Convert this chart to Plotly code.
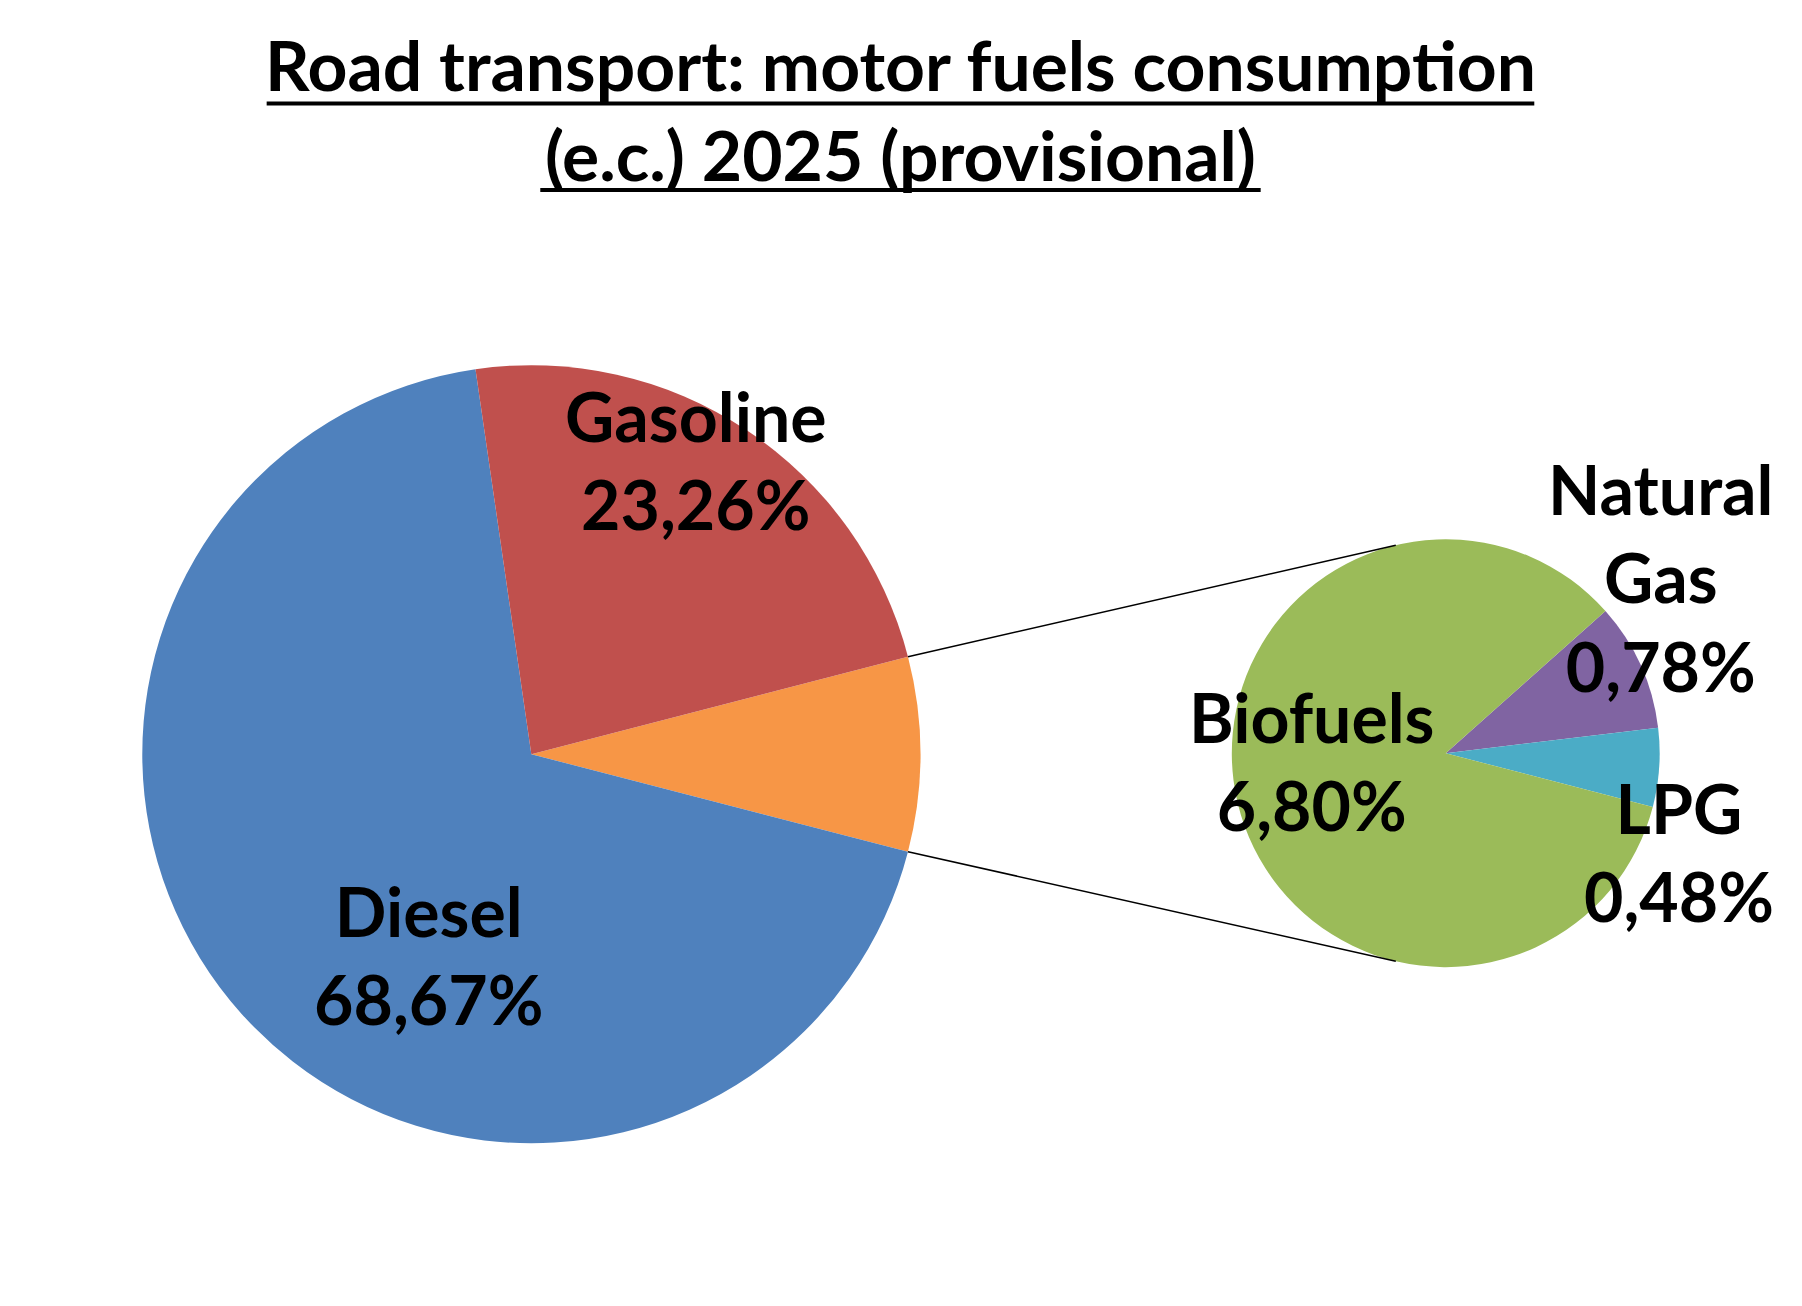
import math
import plotly.graph_objects as go

W, H = 1802, 1306
OFF = 8                      # page body margin around the plot div
FW, FH = W - 2 * OFF, H - 2 * OFF
S = 0.995                    # correction for my measured pixel positions

# main pie: "Other" is the slice that gets broken down in the second pie
main_labels = ["Other", "Diesel", "Gasoline"]
main_values = [8.06, 68.67, 23.26]
main_colors = ["#F79646", "#4F81BD", "#C0504D"]

# second pie: breakdown of "Other"
sub_labels = ["Natural<br>Gas", "LPG", "Biofuels"]
sub_values = [0.78, 0.48, 6.80]
sub_colors = ["#8064A2", "#4BACC6", "#9BBB59"]

title_lines = ["Road transport: motor fuels consumption", "(e.c.) 2025 (provisional)"]

FONT = "Lato"

# pie geometry in page pixels (centre x, centre y from top, radius)
main_c = (534, 758, 391)
sub_c = (1453, 757, 215)


def px(x, y):
    return (x * S - OFF) / FW, (FH - (y * S - OFF)) / FH


def dom(c):
    cx, cy, r = c
    xa, ya = px(cx - r, cy + r)
    xb, yb = px(cx + r, cy - r)
    return dict(x=[xa, xb], y=[ya, yb])


def fmt(v):
    return ("%.2f%%" % v).replace(".", ",")


other_share = main_values[0] / sum(main_values)
half = other_share * 180.0

fig = go.Figure()
fig.add_trace(go.Pie(labels=main_labels, values=main_values, sort=False,
                     direction="clockwise", rotation=90 - half,
                     marker=dict(colors=main_colors, line=dict(width=0)),
                     textinfo="none", hoverinfo="label+percent",
                     domain=dom(main_c), showlegend=False))
fig.add_trace(go.Pie(labels=sub_labels, values=sub_values, sort=False,
                     direction="clockwise", rotation=48.3,
                     marker=dict(colors=sub_colors, line=dict(width=0)),
                     textinfo="none", hoverinfo="label+percent",
                     domain=dom(sub_c), showlegend=False))

shapes = []
# connector lines from the "Other" slice to the second pie
for sgn in (1, -1):
    a1 = math.radians(sgn * half)
    a2 = math.radians(sgn * 103.5)
    x0 = main_c[0] + main_c[2] * math.cos(a1)
    y0 = main_c[1] - main_c[2] * math.sin(a1)
    x1 = sub_c[0] + sub_c[2] * math.cos(a2)
    y1 = sub_c[1] - sub_c[2] * math.sin(a2)
    p0, p1 = px(x0, y0), px(x1, y1)
    shapes.append(dict(type="line", xref="paper", yref="paper",
                       x0=p0[0], y0=p0[1], x1=p1[0], y1=p1[1],
                       line=dict(color="black", width=1.5)))

# title underlines (left, right, y in page pixels)
for xl, xr, yy in [(268, 1542, 104), (543, 1267, 191)]:
    a, b = px(xl, yy), px(xr, yy)
    shapes.append(dict(type="line", xref="paper", yref="paper",
                       x0=a[0], y0=a[1], x1=b[0], y1=b[1],
                       line=dict(color="black", width=4)))

# data labels (block centres in page pixels)
label_pos = {
    "Diesel": (431, 959),
    "Gasoline": (699, 462),
    "Natural<br>Gas": (1669, 580),
    "LPG": (1687, 856),
    "Biofuels": (1318, 764),
}
annotations = []
for lab, val in list(zip(main_labels, main_values)) + list(zip(sub_labels, sub_values)):
    if lab not in label_pos:
        continue
    x, y = px(*label_pos[lab])
    annotations.append(dict(x=x, y=y, xref="paper", yref="paper",
                            text=lab + "<br>" + fmt(val), showarrow=False,
                            xanchor="center", yanchor="middle",
                            font=dict(family=FONT, size=68, color="black", weight="bold")))

fig.update_layout(
    width=FW, height=FH,
    margin=dict(l=0, r=0, t=0, b=0),
    paper_bgcolor="white",
    title=dict(text="<br>".join(title_lines),
               x=px(905, 0)[0], xanchor="center", y=1 - 83 / FH, yanchor="middle",
               font=dict(family=FONT, size=69.6, color="black", weight="bold")),
    shapes=shapes,
    annotations=annotations,
)

fig.write_html("out.html")
